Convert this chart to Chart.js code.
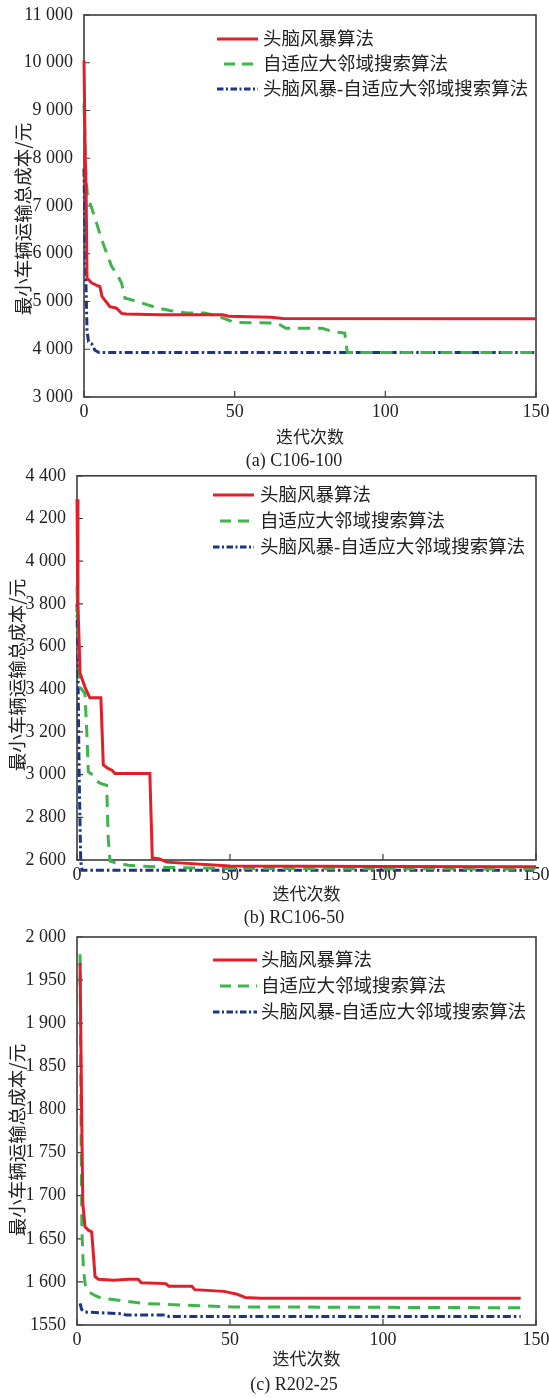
<!DOCTYPE html>
<html><head><meta charset="utf-8">
<script src="https://cdn.jsdelivr.net/npm/chart.js@4.4.1/dist/chart.umd.min.js"></script>
<style>
html,body{margin:0;padding:0;background:#fff;}
body{width:549px;height:1398px;position:relative;overflow:hidden;}
canvas{position:absolute;left:0;}
.cap{position:absolute;left:194px;width:200px;text-align:center;font:18px "Liberation Serif",serif;color:#222;line-height:22px;white-space:nowrap;}
</style></head><body>
<canvas id="c1" width="549" height="450" style="top:0px"></canvas>
<div class="cap" style="top:449px">(a) C106-100</div>
<canvas id="c2" width="549" height="445" style="top:462px"></canvas>
<div class="cap" style="top:906px">(b) RC106-50</div>
<canvas id="c3" width="549" height="450" style="top:922px"></canvas>
<div class="cap" style="top:1373px">(c) R202-25</div>
<script>
// ---------- labels ----------
const seriesNames = ['头脑风暴算法', '自适应大邻域搜索算法', '头脑风暴-自适应大邻域搜索算法'];
const xTitle = '迭代次数';
const yTitle = '最小车辆运输总成本/元';
const xTickLabels = ['0', '50', '100', '150'];

// ---------- (a) C106-100 ----------
const c1YTicks = ['3 000','4 000','5 000','6 000','7 000','8 000','9 000','10 000','11 000'];
const c1RedX = [0, 0.4, 0.7, 1.0, 2.5, 4.5, 5.3, 6.0, 8.6, 10.8, 12.5, 14, 25, 46, 48, 62, 66, 150];
const c1RedY = [10050, 8000, 7300, 5490, 5390, 5330, 5310, 5100, 4890, 4860, 4750, 4740, 4720, 4720, 4690, 4670, 4645, 4640];
const c1GreenX = [0, 0.5, 1.1, 2.0, 3.65, 5.9, 9.2, 10.8, 12.5, 13.6, 15, 24.7, 28.5, 34, 40, 45, 50, 55, 64, 67, 79, 82.6, 86.5, 87.4, 150];
const c1GreenY = [9150, 7800, 7250, 7060, 6750, 6290, 5730, 5590, 5380, 5070, 5050, 4860, 4810, 4760, 4760, 4680, 4560, 4555, 4550, 4440, 4440, 4370, 4340, 3930, 3930];
const c1BlueX = [0, 0.3, 0.6, 1.0, 1.5, 2.5, 3.6, 5, 150];
const c1BlueY = [7780, 6500, 5500, 4400, 4160, 4120, 3980, 3930, 3930];

// ---------- (b) RC106-50 ----------
const c2YTicks = ['2 600','2 800','3 000','3 200','3 400','3 600','3 800','4 000','4 200','4 400'];
const c2RedX = [0, 0.3, 1.0, 2.6, 4.2, 7.8, 8.6, 10, 11.5, 12.4, 23.8, 24.6, 27, 29.3, 50, 100, 150];
const c2RedY = [4290, 3800, 3475, 3410, 3360, 3360, 3045, 3030, 3020, 3005, 3005, 2610, 2605, 2590, 2572, 2570, 2568];
const c2GreenX = [0, 0.5, 1.0, 2.6, 3.2, 3.7, 5.3, 6.5, 7.5, 9.7, 10.2, 10.8, 12.3, 16.8, 20.6, 29.3, 50, 150];
const c2GreenY = [3880, 3600, 3410, 3380, 3200, 3013, 2997, 2970, 2960, 2950, 2700, 2595, 2588, 2575, 2572, 2565, 2560, 2558];
const c2BlueX = [0, 0.3, 0.7, 1.2, 1.6, 150];
const c2BlueY = [3800, 3500, 3000, 2600, 2552, 2552];

// ---------- (c) R202-25 ----------
const c3YTicks = ['1550','1 600','1 650','1 700','1 750','1 800','1 850','1 900','1 950','2 000'];
const c3RedX = [1, 1.5, 1.9, 2.6, 3.7, 4.8, 5.9, 7, 12, 17, 20, 21, 29, 30, 37.5, 38.5, 48, 52, 55, 60, 145];
const c3RedY = [1970, 1800, 1691, 1664, 1660, 1658, 1606, 1603, 1602, 1603, 1603, 1599, 1598, 1595, 1595, 1591, 1589, 1586, 1582, 1581, 1581];
const c3GreenX = [1, 1.3, 1.6, 2.1, 2.8, 4, 6, 8, 13, 21.7, 35.8, 51, 145];
const c3GreenY = [1980, 1800, 1660, 1614, 1594, 1588, 1584, 1581, 1579, 1575, 1573, 1571, 1570];
const c3BlueX = [1, 1.5, 2.5, 15, 16, 29, 30, 145];
const c3BlueY = [1575, 1568, 1565, 1563, 1561.5, 1561.5, 1560, 1560];

// ---------- styling ----------
const RED = '#e31e2b', GREEN = '#3db54a', BLUE = '#1d3586';
const NUM_FONT = '"Liberation Serif", "Times New Roman", serif';
const CJK_FONT = '"Noto Sans CJK SC", sans-serif';
const MIX_FONT = '"Liberation Serif", "Noto Sans CJK SC", sans-serif';

function pts(xs, ys) { return xs.map((x, i) => ({x: x, y: ys[i]})); }

const framePlugin = {
  id: 'frame',
  beforeDatasetsDraw(chart) {
    const {ctx, chartArea: a, scales} = chart;
    const x = scales.x, y = scales.y;
    ctx.save();
    ctx.strokeStyle = '#3c3c3c';
    ctx.lineWidth = 1.6;
    ctx.strokeRect(a.left, a.top, a.right - a.left, a.bottom - a.top);
    ctx.lineWidth = 1.2;
    ctx.beginPath();
    y.ticks.forEach((t, i) => { const py = y.getPixelForTick(i); ctx.moveTo(a.left, py); ctx.lineTo(a.left + 6, py); });
    x.ticks.forEach((t, i) => { const px = x.getPixelForTick(i); ctx.moveTo(px, a.bottom); ctx.lineTo(px, a.bottom - 6); });
    ctx.stroke();
    ctx.restore();
  }
};

const yTitlePlugin = {
  id: 'yTitle',
  afterDraw(chart, args, o) {
    const ctx = chart.ctx;
    ctx.save();
    ctx.translate(o.x, o.y);
    ctx.rotate(-Math.PI / 2);
    ctx.textAlign = 'center';
    ctx.textBaseline = 'middle';
    ctx.fillStyle = '#222';
    ctx.font = '18.5px ' + CJK_FONT;
    ctx.fillText(yTitle, 0, 0);
    ctx.restore();
  }
};

const legendPlugin = {
  id: 'inLegend',
  afterDatasetsDraw(chart, args, o) {
    const ctx = chart.ctx;
    ctx.save();
    ctx.font = '18.5px ' + MIX_FONT;
    ctx.textBaseline = 'middle';
    ctx.fillStyle = '#222';
    chart.data.datasets.forEach((ds, i) => {
      const yy = o.y + i * o.gap;
      ctx.beginPath();
      ctx.strokeStyle = ds.borderColor;
      ctx.lineWidth = ds.borderWidth;
      ctx.setLineDash(ds.legendDash || []);
      ctx.lineDashOffset = ds.legendDashOffset || 0;
      ctx.moveTo(o.x, yy);
      ctx.lineTo(o.x + o.len, yy);
      ctx.stroke();
      ctx.setLineDash([]);
      ctx.fillText(ds.label, o.x + o.len + o.textGap, yy + 1);
    });
    ctx.restore();
  }
};

function makeChart(id, cfg) {
  const datasets = [
    {label: seriesNames[0], data: pts(cfg.red[0], cfg.red[1]), borderColor: RED, borderWidth: 3, legendDash: []},
    {label: seriesNames[1], data: pts(cfg.green[0], cfg.green[1]), borderColor: GREEN, borderWidth: 3, borderDash: [12, 8], legendDash: [11, 7], legendDashOffset: 11},
    {label: seriesNames[2], data: pts(cfg.blue[0], cfg.blue[1]), borderColor: BLUE, borderWidth: 3, borderDash: [8, 3, 2.5, 3], legendDash: [6.5, 2.5, 2, 2.5]}
  ].map(d => Object.assign(d, {pointRadius: 0, tension: 0, fill: false, clip: false, backgroundColor: d.borderColor}));
  datasets[0].order = 1; datasets[1].order = 2; datasets[2].order = 3;
  return new Chart(document.getElementById(id), {
    type: 'line',
    data: {datasets: datasets},
    options: {
      responsive: false,
      animation: false,
      events: [],
      layout: {padding: {left: 0, right: 13, top: cfg.padTop, bottom: 0}},
      plugins: {
        legend: {display: false},
        tooltip: {enabled: false},
        inLegend: cfg.legend,
        yTitle: cfg.yTitlePos
      },
      scales: {
        x: {
          type: 'linear', min: 0, max: 150,
          grid: {display: false}, border: {display: false},
          ticks: {stepSize: 50, padding: -4, color: '#222', font: {family: NUM_FONT, size: 18},
                  callback: (v, i) => xTickLabels[i], maxRotation: 0, autoSkip: false},
          title: {display: true, text: xTitle, color: '#222', font: {family: CJK_FONT, size: 17}, padding: {top: 0, bottom: 3}},
          afterFit: s => { s.height = cfg.xH; }
        },
        y: {
          type: 'linear', min: cfg.yMin, max: cfg.yMax,
          grid: {display: false}, border: {display: false},
          ticks: {stepSize: cfg.yStep, padding: 3, color: '#222', font: {family: NUM_FONT, size: 18},
                  callback: (v, i) => cfg.yLabels[i], autoSkip: false},
          title: {display: false},
          afterFit: s => { s.width = cfg.yW; }
        }
      }
    },
    plugins: [framePlugin, legendPlugin, yTitlePlugin]
  });
}

makeChart('c1', {
  red: [c1RedX, c1RedY], green: [c1GreenX, c1GreenY], blue: [c1BlueX, c1BlueY],
  yMin: 3000, yMax: 11000, yStep: 1000, yLabels: c1YTicks,
  padTop: 15, xH: 53, yW: 84, yTitlePos: {x: 23, y: 219},
  legend: {x: 217, y: 39, gap: 25, len: 41, textGap: 5}
});
makeChart('c2', {
  red: [c2RedX, c2RedY], green: [c2GreenX, c2GreenY], blue: [c2BlueX, c2BlueY],
  yMin: 2600, yMax: 4400, yStep: 200, yLabels: c2YTicks,
  padTop: 13, xH: 47, yW: 77, yTitlePos: {x: 17, y: 213},
  legend: {x: 213, y: 33, gap: 26, len: 41, textGap: 6}
});
makeChart('c3', {
  red: [c3RedX, c3RedY], green: [c3GreenX, c3GreenY], blue: [c3BlueX, c3BlueY],
  yMin: 1550, yMax: 2000, yStep: 50, yLabels: c3YTicks,
  padTop: 15, xH: 47, yW: 77, yTitlePos: {x: 17, y: 218},
  legend: {x: 213, y: 38, gap: 26, len: 44, textGap: 4}
});
</script>
</body></html>
